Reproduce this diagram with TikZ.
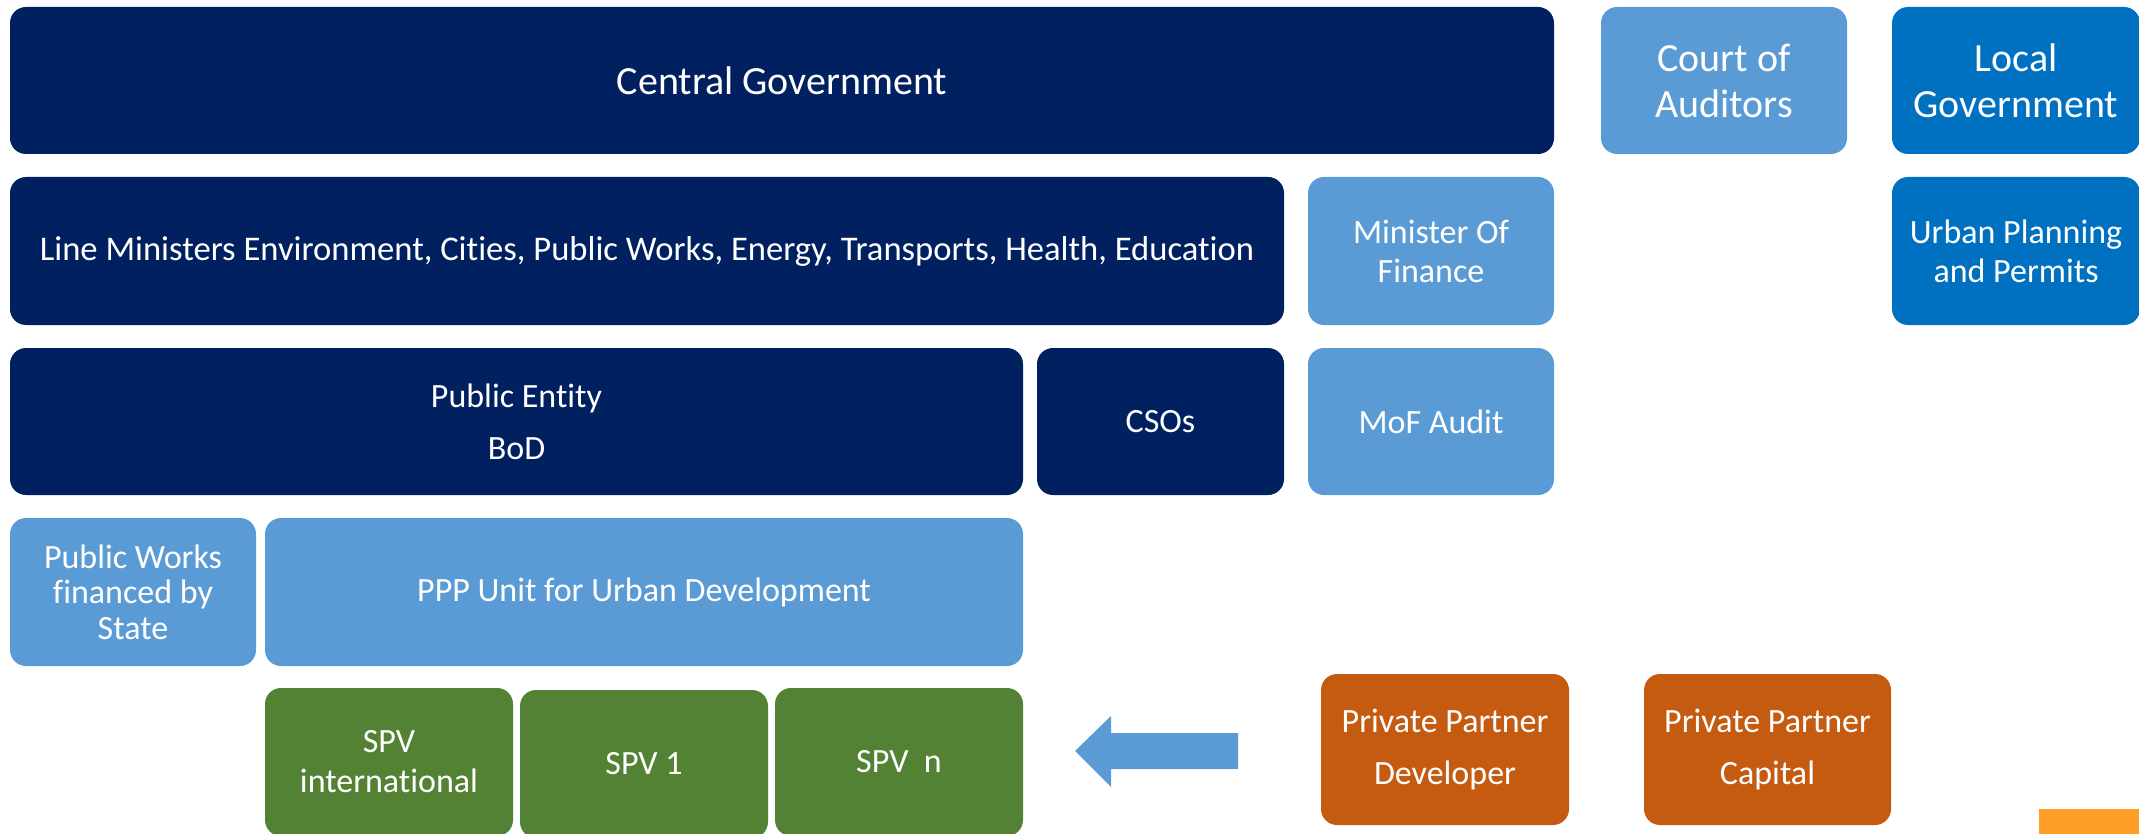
\documentclass[tikz,border=0pt]{standalone}
\usepackage{fontspec}
\setmainfont{Carlito}[Ligatures=NoCommon]
\definecolor{navy}{HTML}{002060}
\definecolor{lblue}{HTML}{5B9BD5}
\definecolor{mblue}{HTML}{0070C0}
\definecolor{sgreen}{HTML}{548235}
\definecolor{rorange}{HTML}{C55A11}
\definecolor{yorange}{HTML}{FF9E27}
\tikzset{
  box/.style={rounded corners=8pt, inner sep=0pt, draw=none, align=center, text=white,
    font=\fontsize{17}{19.5}\selectfont},
  bigbox/.style={box, font=\fontsize{20}{23}\selectfont},
  arrowshape/.style={fill=lblue, draw=none}
}
\begin{document}
\begin{tikzpicture}[x=0.5pt,y=-0.5pt]
\useasboundingbox (0,0) rectangle (2139,834);
\begin{scope}
\clip (0,0) rectangle (2139,834);
% top row
\node[bigbox, fill=navy, minimum width=772pt, minimum height=73.5pt] (cg) at (782,80.5) {Central Government};
\node[bigbox, fill=lblue, minimum width=123pt, minimum height=73.5pt] (ca) at (1724,80.5) {Court of\\Auditors};
\node[bigbox, fill=mblue, minimum width=124pt, minimum height=73.5pt] (lg) at (2016,80.5) {Local\\Government};
% second row
\node[box, fill=navy, minimum width=637pt, minimum height=74pt, font=\fontsize{17.3}{19.5}\selectfont] (lm) at (647,251) {Line Ministers Environment, Cities, Public Works, Energy, Transports, Health, Education};
\node[box, fill=lblue, minimum width=123pt, minimum height=74pt] (mf) at (1431,251) {Minister Of\\Finance};
\node[box, fill=mblue, minimum width=124pt, minimum height=74pt] (up) at (2016,251) {Urban Planning\\and Permits};
% third row
\node[box, fill=navy, minimum width=506.5pt, minimum height=73.5pt] (pe) at (516.5,421.5) {Public Entity\\[6.5pt]BoD};
\node[box, fill=navy, minimum width=123.5pt, minimum height=73.5pt] (cso) at (1160.5,421.5) {CSOs};
\node[box, fill=lblue, minimum width=123pt, minimum height=73.5pt] (mfa) at (1431,421.5) {MoF Audit};
% fourth row
\node[box, fill=lblue, minimum width=123pt, minimum height=74pt, font=\fontsize{17}{17.7}\selectfont] (pw) at (133,592) {Public Works\\financed by\\State};
\node[box, fill=lblue, minimum width=379pt, minimum height=74pt] (ppp) at (644,592) {PPP Unit for Urban Development};
% SPVs
\node[box, fill=sgreen, minimum width=124pt, minimum height=74pt] (spvi) at (389,762) {SPV\\[0.5pt]international};
\node[box, fill=sgreen, minimum width=124pt, minimum height=74pt] (spv1) at (644,764) {SPV 1};
\node[box, fill=sgreen, minimum width=124pt, minimum height=74pt] (spvn) at (899,762) {SPV\ \ n};
% private partners
\node[box, fill=rorange, minimum width=124pt, minimum height=75.5pt] (ppd) at (1445,749.5) {Private Partner\\[6.5pt]Developer};
\node[box, fill=rorange, minimum width=123.5pt, minimum height=75.5pt] (ppc) at (1767.5,749.5) {Private Partner\\[6.5pt]Capital};
% arrow
\coordinate (atip) at (1075,751);
\fill[arrowshape] (atip) -- (1111,716) -- (1111,733) -- (1238,733) -- (1238,769) -- (1111,769) -- (1111,787) -- cycle;
% orange corner element
\fill[yorange] (2039,809) rectangle (2139,834);
\end{scope}
\end{tikzpicture}
\end{document}
